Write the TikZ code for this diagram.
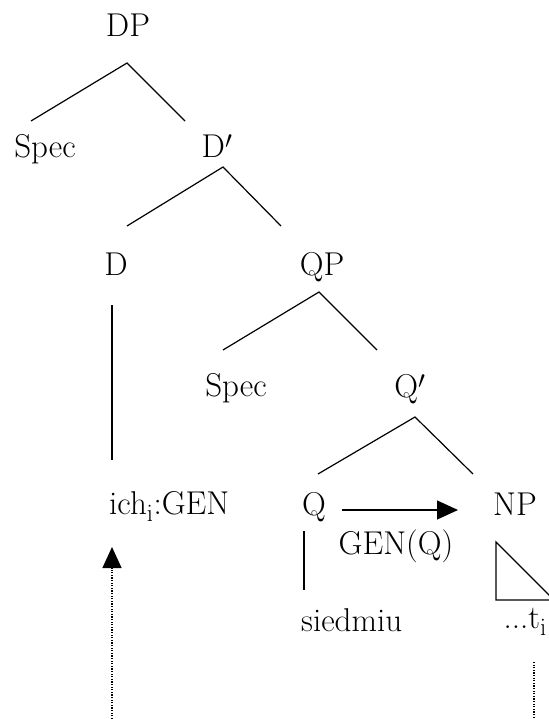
\documentclass[tikz,border=0pt]{standalone}
\usetikzlibrary{arrows.meta}
\begin{document}
\begin{tikzpicture}[x=1bp,y=-1bp,
  lbl/.style={inner sep=0pt,font=\fontsize{33bp}{39bp}\selectfont},
  branch/.style={line width=1.2bp},
  dots/.style={line width=1.2bp,dash pattern=on 1.2bp off 1.4bp},
  tip/.style={-{Triangle[length=21bp,width=19bp]}}]
\useasboundingbox (0,0) rectangle (549,719);
% labels
\node[lbl,anchor=base] (DP) at (128,37) {DP};
\node[lbl,anchor=base] (Spec1) at (45,157) {Spec};
\node[lbl,anchor=base] (Dbar) at (217,157) {D$'$};
\node[lbl,anchor=base] (D) at (116,275) {D};
\node[lbl,anchor=base] (QP) at (322,275) {QP};
\node[lbl,anchor=base] (Spec2) at (236,396) {Spec};
\node[lbl,anchor=base] (Qbar) at (410,397) {Q$'$};
\node[lbl,anchor=base west] (ich) at (109,514) {ich$_{\mathrm{i}}$:GEN};
\node[lbl,anchor=base] (Q) at (314,515) {Q};
\node[lbl,anchor=base] (NP) at (515,515) {NP};
\node[lbl,anchor=base] (gen) at (396,554) {GEN(Q)};
\node[lbl,anchor=base west] (sied) at (301,631) {siedmiu};
\node[lbl,anchor=base east] (trace) at (547,628) {...t$_{\mathrm{i}}$};
% branch points
\coordinate (DPa) at (127,63);   \coordinate (DPl) at (31,121);  \coordinate (DPr) at (185,121);
\coordinate (Dba) at (223,167);  \coordinate (Dbl) at (127,226); \coordinate (Dbr) at (281,226);
\coordinate (QPa) at (319,292);  \coordinate (QPl) at (223,350); \coordinate (QPr) at (377,350);
\coordinate (Qba) at (415,417);  \coordinate (Qbl) at (318,474); \coordinate (Qbr) at (473,474);
\coordinate (Dt) at (112,305);   \coordinate (Db) at (112,460);
\coordinate (Qt) at (304,531);   \coordinate (Qb) at (304,590);
\coordinate (Tr1) at (496,542);  \coordinate (Tr2) at (496,600); \coordinate (Tr3) at (554,600);
\coordinate (Rd1) at (534,662);  \coordinate (Rd2) at (534,719);
\coordinate (Ld1) at (112,719);  \coordinate (Ld2) at (112,568); \coordinate (LdTip) at (112,547);
\coordinate (Ga) at (342,510);   \coordinate (Gb) at (458,510);
% tree
\draw[branch] (DPl) -- (DPa) -- (DPr);
\draw[branch] (Dbl) -- (Dba) -- (Dbr);
\draw[branch] (QPl) -- (QPa) -- (QPr);
\draw[branch] (Qbl) -- (Qba) -- (Qbr);
\draw[branch] (Dt) -- (Db);
\draw[branch] (Qt) -- (Qb);
\draw[branch] (Tr1) -- (Tr2) -- (Tr3) -- cycle;
% arrows
\draw[branch,tip] (Ga) -- (Gb);
\draw[dots] (Rd1) -- (Rd2);
\draw[dots] (Ld1) -- (Ld2);
\draw[branch,tip] (Ld2) -- (LdTip);
\end{tikzpicture}
\end{document}
